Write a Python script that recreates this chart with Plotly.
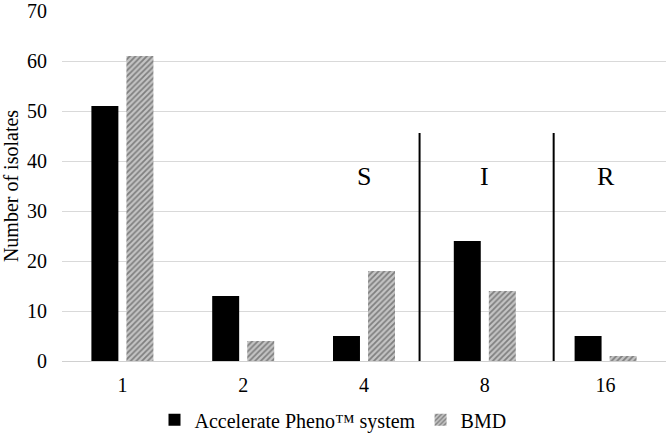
import plotly.graph_objects as go

categories = ["1", "2", "4", "8", "16"]
accelerate = [51, 13, 5, 24, 5]
bmd = [61, 4, 18, 14, 1]
y_ticks = [0, 10, 20, 30, 40, 50, 60, 70]
zone_labels = ["S", "I", "R"]
zone_label_cats = ["4", "8", "16"]
zone_label_value = 37
separator_positions = [2.46, 3.57]
separator_height = 45.6

FONT = "Liberation Serif, Times New Roman, serif"

fig = go.Figure()
fig.add_trace(go.Bar(
    x=categories, y=accelerate, name="Accelerate Pheno™ system",
    marker=dict(color="#000000", line=dict(width=0)),
))
fig.add_trace(go.Bar(
    x=categories, y=bmd, name="BMD",
    marker=dict(color="#9a9a9a", line=dict(width=0),
                pattern=dict(shape="/", fgcolor="#3a3a3a", bgcolor="#c4c4c4",
                             size=4, solidity=0.45)),
))

for xp in separator_positions:
    fig.add_shape(type="line", xref="x", yref="y", x0=xp, x1=xp, y0=0, y1=separator_height,
                  line=dict(color="#000000", width=2))

for lab, cat in zip(zone_labels, zone_label_cats):
    fig.add_annotation(x=categories.index(cat), y=zone_label_value, text=lab, showarrow=False,
                       font=dict(family=FONT, size=26, color="#000000"))

fig.update_layout(
    width=666, height=434,
    margin=dict(l=62, r=0, t=11, b=73, autoexpand=False),
    paper_bgcolor="white", plot_bgcolor="white",
    barmode="group", bargap=0.42, bargroupgap=0.23,
    font=dict(family=FONT, size=20, color="#000000"),
    showlegend=True,
    legend=dict(orientation="h", xref="container", yref="paper",
                x=0.5, xanchor="center", y=-0.112, yanchor="top",
                font=dict(family=FONT, size=20, color="#000000"), itemwidth=30,
                traceorder="normal"),
    xaxis=dict(type="category", range=[-0.5, 4.5], showgrid=False, showline=True,
               linecolor="#d0d0d0", linewidth=1, ticks="", automargin=False,
               tickfont=dict(family=FONT, size=20, color="#000000"),
               ticklabelstandoff=6, fixedrange=True),
    yaxis=dict(range=[0, 70], tickvals=y_ticks, showgrid=True, gridcolor="#d9d9d9",
               gridwidth=1, zeroline=False, showline=False, automargin=False,
               ticklabeloverflow="allow", fixedrange=True,
               tickfont=dict(family=FONT, size=20, color="#000000"), ticklabelstandoff=14,
               title=dict(text="Number of isolates", font=dict(family=FONT, size=20, color="#000000"),
                          standoff=6)),
)

fig.write_html("out.html", config={"displayModeBar": False},
               post_script="document.body.style.margin='0';")
